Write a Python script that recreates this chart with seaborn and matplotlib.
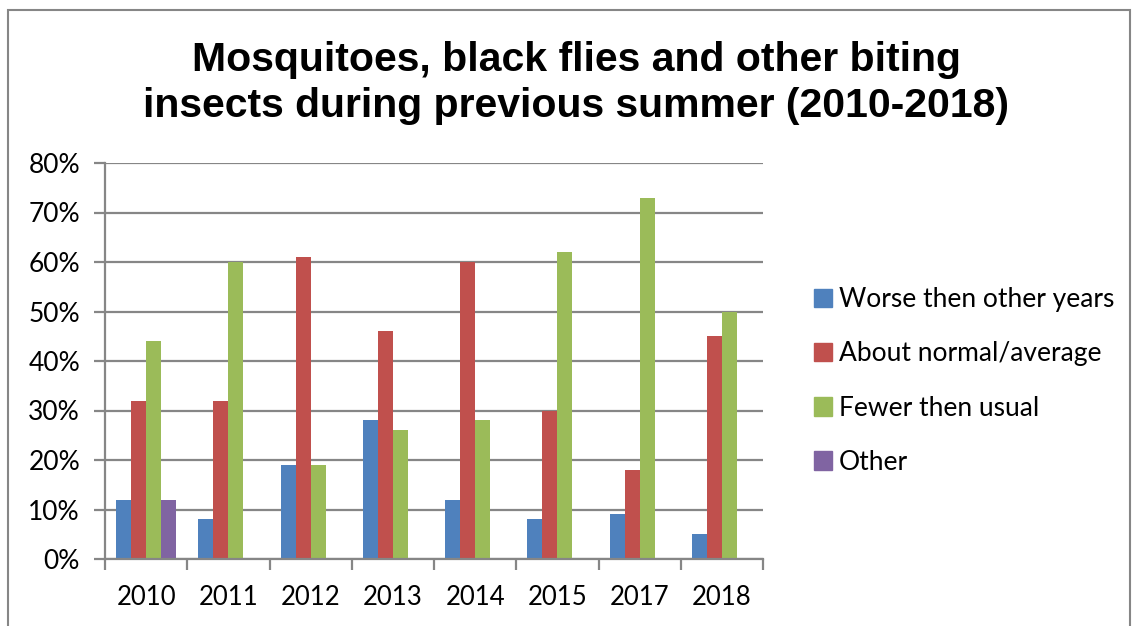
import pandas as pd
import matplotlib
matplotlib.use("Agg")
import matplotlib.pyplot as plt
import matplotlib.ticker as mticker
from matplotlib.patches import Rectangle
import seaborn as sns

# --- data ---
years = ["2010", "2011", "2012", "2013", "2014", "2015", "2017", "2018"]
series = ["Worse then other years", "About normal/average", "Fewer then usual", "Other"]
worse = [12, 8, 19, 28, 12, 8, 9, 5]
normal = [32, 32, 61, 46, 60, 30, 18, 45]
fewer = [44, 60, 19, 26, 28, 62, 73, 50]
other = [12, 0, 0, 0, 0, 0, 0, 0]
colors = ["#4F81BD", "#C0504D", "#9BBB59", "#8064A2"]

rows = []
for name, vals in zip(series, [worse, normal, fewer, other]):
    for y, v in zip(years, vals):
        rows.append({"Year": y, "Series": name, "Value": v})
df = pd.DataFrame(rows)

sns.set_theme(style="white")
plt.rcParams["font.family"] = ["Lato", "DejaVu Sans"]
plt.rcParams["text.color"] = "black"

W, H = 1132, 626
fig = plt.figure(figsize=(W / 100, H / 100), dpi=100)
ax = fig.add_axes([105 / W, 1 - 559 / H, (763 - 105) / W, (559 - 163) / H])

grid_col = "#868686"
sns.barplot(data=df, x="Year", y="Value", hue="Series", hue_order=series,
            palette=colors, saturation=1, width=0.73, linewidth=0, ax=ax)

ax.set_ylim(0, 80)
ax.set_xlim(-0.5, len(years) - 0.5)
ax.yaxis.set_major_locator(mticker.MultipleLocator(10))
ax.yaxis.set_major_formatter(mticker.FuncFormatter(lambda v, _: f"{v:.0f}%"))
ax.yaxis.grid(True, color=grid_col, linewidth=1.6)
ax.set_axisbelow(True)
ax.set_xlabel("")
ax.set_ylabel("")

ax.xaxis.set_minor_locator(mticker.FixedLocator([i - 0.5 for i in range(len(years) + 1)]))
ax.tick_params(axis="x", which="major", length=0, labelsize=18.5, pad=19, colors="black")
ax.tick_params(axis="x", which="minor", length=8, width=1.6, color=grid_col, bottom=True)
ax.tick_params(axis="y", which="major", length=8, width=1.6, color=grid_col,
               labelsize=19, pad=10, left=True, labelcolor="black")

for s in ["top", "right"]:
    ax.spines[s].set_visible(False)
for s in ["left", "bottom"]:
    ax.spines[s].set_color(grid_col)
    ax.spines[s].set_linewidth(1.6)

ax.get_legend().remove()
handles = [Rectangle((0, 0), 1, 1, color=c) for c in colors]
leg = fig.legend(handles, series, loc="center left", bbox_to_anchor=(790 / W, 1 - 381 / H),
                 frameon=False, fontsize=19, handlelength=0.7, handleheight=0.7,
                 handletextpad=0.25, labelspacing=1.1)
for t in leg.get_texts():
    t.set_color("black")

fig.text(576 / W, 1 - 83 / H,
         "Mosquitoes, black flies and other biting\ninsects during previous summer (2010-2018)",
         ha="center", va="center", fontsize=29.5, fontweight="bold", color="black",
         family=["Liberation Sans", "DejaVu Sans"], linespacing=1.27)

fig.patches.append(Rectangle((8 / W, -0.01), (1130 - 8) / W, 1 - 10 / H + 0.01,
                             transform=fig.transFigure, fill=False,
                             edgecolor=grid_col, linewidth=1.5))

fig.savefig("out.png", dpi=100)
